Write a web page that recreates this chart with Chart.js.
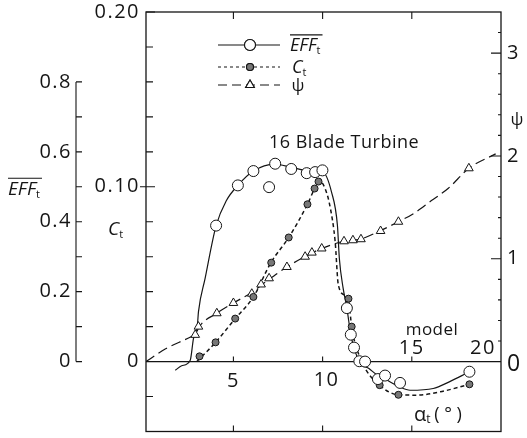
<!DOCTYPE html>
<html>
<head>
<meta charset="utf-8">
<script src="https://cdn.jsdelivr.net/npm/chart.js@4.4.1/dist/chart.umd.min.js"></script>
<style>
  html, body { margin: 0; padding: 0; background: #fff; }
  #wrap { width: 527px; height: 438px; }
</style>
</head>
<body>
<div id="wrap"><canvas id="chart" width="527" height="438"></canvas></div>
<script>
// measured points, alpha_t in degrees
const effAlpha = [4.03, 5.25, 6.12, 7.34, 8.24, 9.11, 9.58, 9.99, 11.36, 11.58, 11.76, 12.06, 12.38, 13.1, 13.5, 14.34, 18.23];
const effVals  = [0.389, 0.504, 0.545, 0.566, 0.551, 0.539, 0.542, 0.547, 0.153, 0.077, 0.040, 0.001, 0.0, -0.05, -0.04, -0.061, -0.029];
const effOddAlpha = [7.0];
const effOddVals  = [0.499];

const ctAlpha = [3.1, 4.0, 5.1, 6.12, 7.12, 8.1, 9.15, 9.55, 9.77, 11.45, 11.63, 13.2, 14.25, 18.23];
const ctVals  = [0.003, 0.011, 0.0246, 0.037, 0.0566, 0.071, 0.090, 0.099, 0.103, 0.036, 0.020, -0.0135, -0.019, -0.013];

const psiAlpha = [2.86, 3.04, 4.07, 5.0, 6.03, 6.55, 7.0, 8.0, 9.02, 9.4, 9.95, 11.2, 11.7, 12.15, 13.25, 14.25, 18.2];
const psiVals  = [0.26, 0.34, 0.47, 0.57, 0.66, 0.75, 0.81, 0.92, 1.02, 1.06, 1.10, 1.17, 1.18, 1.19, 1.27, 1.36, 1.88];

// faired curves as drawn in the figure
const effCurveAlpha = [1.74, 2.1, 2.58, 2.76, 2.98, 3.04, 3.41, 4.03, 4.6, 5.25, 6.12, 7.3, 8.24, 9.1, 9.6, 10.0, 10.5, 10.83, 10.94, 11.15, 11.36, 11.58, 11.76, 12.06, 12.6, 13.1, 13.5, 14.3, 14.9, 16.2, 17.1, 18.2];
const effCurveVals  = [-0.025, -0.012, 0.004, 0.066, 0.104, 0.142, 0.237, 0.389, 0.46, 0.504, 0.545, 0.565, 0.556, 0.546, 0.545, 0.543, 0.485, 0.39, 0.294, 0.21, 0.153, 0.077, 0.04, 0.0, -0.02, -0.04, -0.05, -0.072, -0.082, -0.077, -0.058, -0.03];

const ctCurveAlpha = [2.95, 4.0, 5.1, 6.12, 7.1, 8.1, 9.15, 9.55, 9.8, 10.14, 10.43, 10.7, 10.88, 11.26, 11.45, 11.63, 12.2, 13.2, 14.25, 15.3, 16.6, 18.23];
const ctCurveVals  = [0.0, 0.011, 0.0246, 0.037, 0.0566, 0.071, 0.090, 0.099, 0.1035, 0.099, 0.088, 0.069, 0.044, 0.038, 0.036, 0.0198, 0.0, -0.0135, -0.019, -0.0192, -0.0173, -0.013];

const psiCurveAlpha = [0.1, 1.2, 2.6, 2.9, 3.05, 4.07, 5.0, 6.0, 7.0, 8.0, 9.0, 9.95, 11.2, 11.7, 12.1, 13.2, 14.25, 15.1, 16.1, 17.05, 18.2, 19.7];
const psiCurveVals  = [0.0, 0.125, 0.24, 0.27, 0.33, 0.47, 0.57, 0.67, 0.80, 0.92, 1.02, 1.10, 1.17, 1.18, 1.19, 1.27, 1.36, 1.44, 1.566, 1.686, 1.88, 2.02];

// tick labels
const effTicks = ['0', '0.2', '0.4', '0.6', '0.8'];
const ctTicks = ['0', '0.10', '0.20'];
const psiTicks = ['0', '1', '2', '3'];
const alphaTicks = ['5', '10', '15', '20'];

const ink = '#151515';
const pts = (xs, ys) => xs.map((x, i) => ({ x: x, y: ys[i] }));

function write(ctx, s, x, y, size, align, style) {
  ctx.font = (style || '') + ' ' + size + 'px "Open Sans", sans-serif';
  ctx.textAlign = align || 'center';
  ctx.textBaseline = 'middle';
  ctx.fillText(s, x, y);
  return ctx.measureText(s).width;
}

// italic name with subscript t and optional overline
function subName(ctx, name, sub, x, y, size, bar) {
  const w = write(ctx, name, x, y, size, 'left', 'italic');
  write(ctx, sub, x + w, y + 5, Math.round(size * 0.6), 'left', '');
  if (bar) {
    ctx.beginPath();
    ctx.moveTo(x, y - size * 0.62);
    ctx.lineTo(x + w + 6, y - size * 0.62);
    ctx.stroke();
  }
}

const frame = {
  id: 'frame',
  beforeDatasetsDraw(chart) {
    const { ctx, chartArea: a, scales } = chart;
    const X = scales.x, C = scales.yC, E = scales.yE, P = scales.yP;
    ctx.save();
    ctx.strokeStyle = ink;
    ctx.lineWidth = 1.3;
    ctx.strokeRect(a.left, a.top, a.right - a.left, a.bottom - a.top);
    const y0 = C.getPixelForValue(0);
    ctx.lineWidth = 1.1;
    ctx.beginPath();
    ctx.moveTo(a.left, y0);
    ctx.lineTo(a.right, y0);
    // C_t ticks inside left border
    for (let k = -2; k <= 10; k++) {
      const y = C.getPixelForValue(k * 0.02);
      ctx.moveTo(a.left, y);
      ctx.lineTo(a.left + (k % 5 === 0 ? 9 : 7), y);
    }
    ctx.moveTo(a.left - 6, C.getPixelForValue(0.1));
    ctx.lineTo(a.left, C.getPixelForValue(0.1));
    // psi ticks inside right border
    for (let k = 1; k <= 16; k++) {
      const y = P.getPixelForValue(k * 0.2);
      ctx.moveTo(a.right, y);
      ctx.lineTo(a.right - (k % 5 === 0 ? 10 : 3), y);
    }
    // alpha ticks
    [5, 10, 15].forEach(v => {
      const x = X.getPixelForValue(v);
      ctx.moveTo(x, a.top); ctx.lineTo(x, a.top + 7);
      ctx.moveTo(x, a.bottom); ctx.lineTo(x, a.bottom - 6);
      ctx.moveTo(x, y0); ctx.lineTo(x, y0 - 5);
    });
    // separate EFF axis
    const ex = 76;
    ctx.moveTo(ex, E.getPixelForValue(0));
    ctx.lineTo(ex, E.getPixelForValue(0.8));
    for (let k = 0; k <= 8; k++) {
      const y = E.getPixelForValue(k * 0.1);
      ctx.moveTo(ex, y);
      ctx.lineTo(ex + 6, y);
    }
    ctx.stroke();
    ctx.restore();
  },
  afterDraw(chart) {
    const { ctx, chartArea: a, scales } = chart;
    const X = scales.x, C = scales.yC, E = scales.yE, P = scales.yP;
    ctx.save();
    ctx.fillStyle = ink;
    ctx.strokeStyle = ink;
    ctx.lineWidth = 1.1;
    ctx.letterSpacing = '1.5px';

    effTicks.forEach(s => write(ctx, s, 72, E.getPixelForValue(+s), 20, 'right'));
    ctTicks.forEach(s => write(ctx, s, 140, C.getPixelForValue(+s), 20, 'right'));
    psiTicks.forEach(s => write(ctx, s, a.right + 6, P.getPixelForValue(+s) + (s === '0' ? 3 : 0), s === '0' ? 23 : 20, 'left'));
    const y0 = C.getPixelForValue(0);
    write(ctx, alphaTicks[0], X.getPixelForValue(5), y0 + 20, 20);
    write(ctx, alphaTicks[1], X.getPixelForValue(10) + 4, y0 + 19, 20);
    write(ctx, alphaTicks[2], X.getPixelForValue(15), y0 - 13, 20);
    write(ctx, alphaTicks[3], X.getPixelForValue(20) - 18, y0 - 13, 20);
    ctx.letterSpacing = '0.5px';

    write(ctx, 'model', 432, 330, 17);
    write(ctx, '16 Blade Turbine', 344, 143, 18);
    ctx.letterSpacing = '0px';

    // axis names
    subName(ctx, 'EFF', 't', 8, 190, 19, true);
    subName(ctx, 'C', 't', 108, 230, 19, false);
    write(ctx, 'ψ', 517, 120, 17, 'center');
    const wa = write(ctx, 'α', 414, 415, 20, 'left');
    write(ctx, 't', 414 + wa, 420, 12, 'left');
    write(ctx, '( ° )', 414 + wa + 8, 415, 18, 'left');

    // legend
    const rows = [
      { y: 45, dash: [], r: 5.5, style: 'circle', fill: '#fff' },
      { y: 67, dash: [3, 3], r: 3.5, style: 'circle', fill: '#777' },
      { y: 85, dash: [9, 5], r: 5, style: 'triangle', fill: '#fff' }
    ];
    rows.forEach(r => {
      ctx.setLineDash(r.dash);
      ctx.beginPath();
      ctx.moveTo(218, r.y); ctx.lineTo(280, r.y);
      ctx.stroke();
      ctx.setLineDash([]);
      ctx.fillStyle = r.fill;
      Chart.helpers.drawPoint(ctx, { pointStyle: r.style, radius: r.r, borderWidth: 1 }, 250, r.y);
      ctx.fill();
      ctx.stroke();
      ctx.fillStyle = ink;
    });
    subName(ctx, 'EFF', 't', 290, 46, 18, true);
    subName(ctx, 'C', 't', 292, 68, 18, false);
    write(ctx, 'ψ', 298, 86, 17, 'center');
    ctx.restore();
  }
};

const lineStyle = { showLine: true, pointRadius: 0, fill: false, borderColor: ink, cubicInterpolationMode: 'monotone', order: 2 };
const markStyle = { showLine: false, borderColor: ink, borderWidth: 1, order: 1 };

new Chart(document.getElementById('chart'), {
  type: 'scatter',
  data: {
    datasets: [
      Object.assign({ label: 'EFF curve', data: pts(effCurveAlpha, effCurveVals), yAxisID: 'yE', borderWidth: 1.2 }, lineStyle),
      Object.assign({ label: 'Ct curve', data: pts(ctCurveAlpha, ctCurveVals), yAxisID: 'yC', borderWidth: 1.5, borderDash: [4, 3] }, lineStyle),
      Object.assign({ label: 'psi curve', data: pts(psiCurveAlpha, psiCurveVals), yAxisID: 'yP', borderWidth: 1.2, borderDash: [10, 5] }, lineStyle),
      Object.assign({ label: 'EFF', data: pts(effAlpha, effVals), yAxisID: 'yE', pointStyle: 'circle', pointRadius: 5.5, backgroundColor: '#fff' }, markStyle),
      Object.assign({ label: 'EFF odd', data: pts(effOddAlpha, effOddVals), yAxisID: 'yE', pointStyle: 'circle', pointRadius: 5.5, backgroundColor: '#fff' }, markStyle),
      Object.assign({ label: 'Ct', data: pts(ctAlpha, ctVals), yAxisID: 'yC', pointStyle: 'circle', pointRadius: 3.5, backgroundColor: '#777' }, markStyle),
      Object.assign({ label: 'psi', data: pts(psiAlpha, psiVals), yAxisID: 'yP', pointStyle: 'triangle', pointRadius: 5, backgroundColor: '#fff' }, markStyle)
    ]
  },
  options: {
    responsive: false,
    animation: false,
    devicePixelRatio: 1,
    layout: { padding: { left: 146, top: 12, right: 26, bottom: 3 } },
    plugins: { legend: { display: false }, tooltip: { enabled: false } },
    scales: {
      x: { type: 'linear', min: 0.1, max: 20, display: false },
      yC: { type: 'linear', min: -0.04, max: 0.2, display: false },
      yE: { type: 'linear', min: -0.2, max: 1.0, display: false },
      yP: { type: 'linear', min: -0.68, max: 3.4, display: false }
    }
  },
  plugins: [frame]
});
</script>
</body>
</html>
